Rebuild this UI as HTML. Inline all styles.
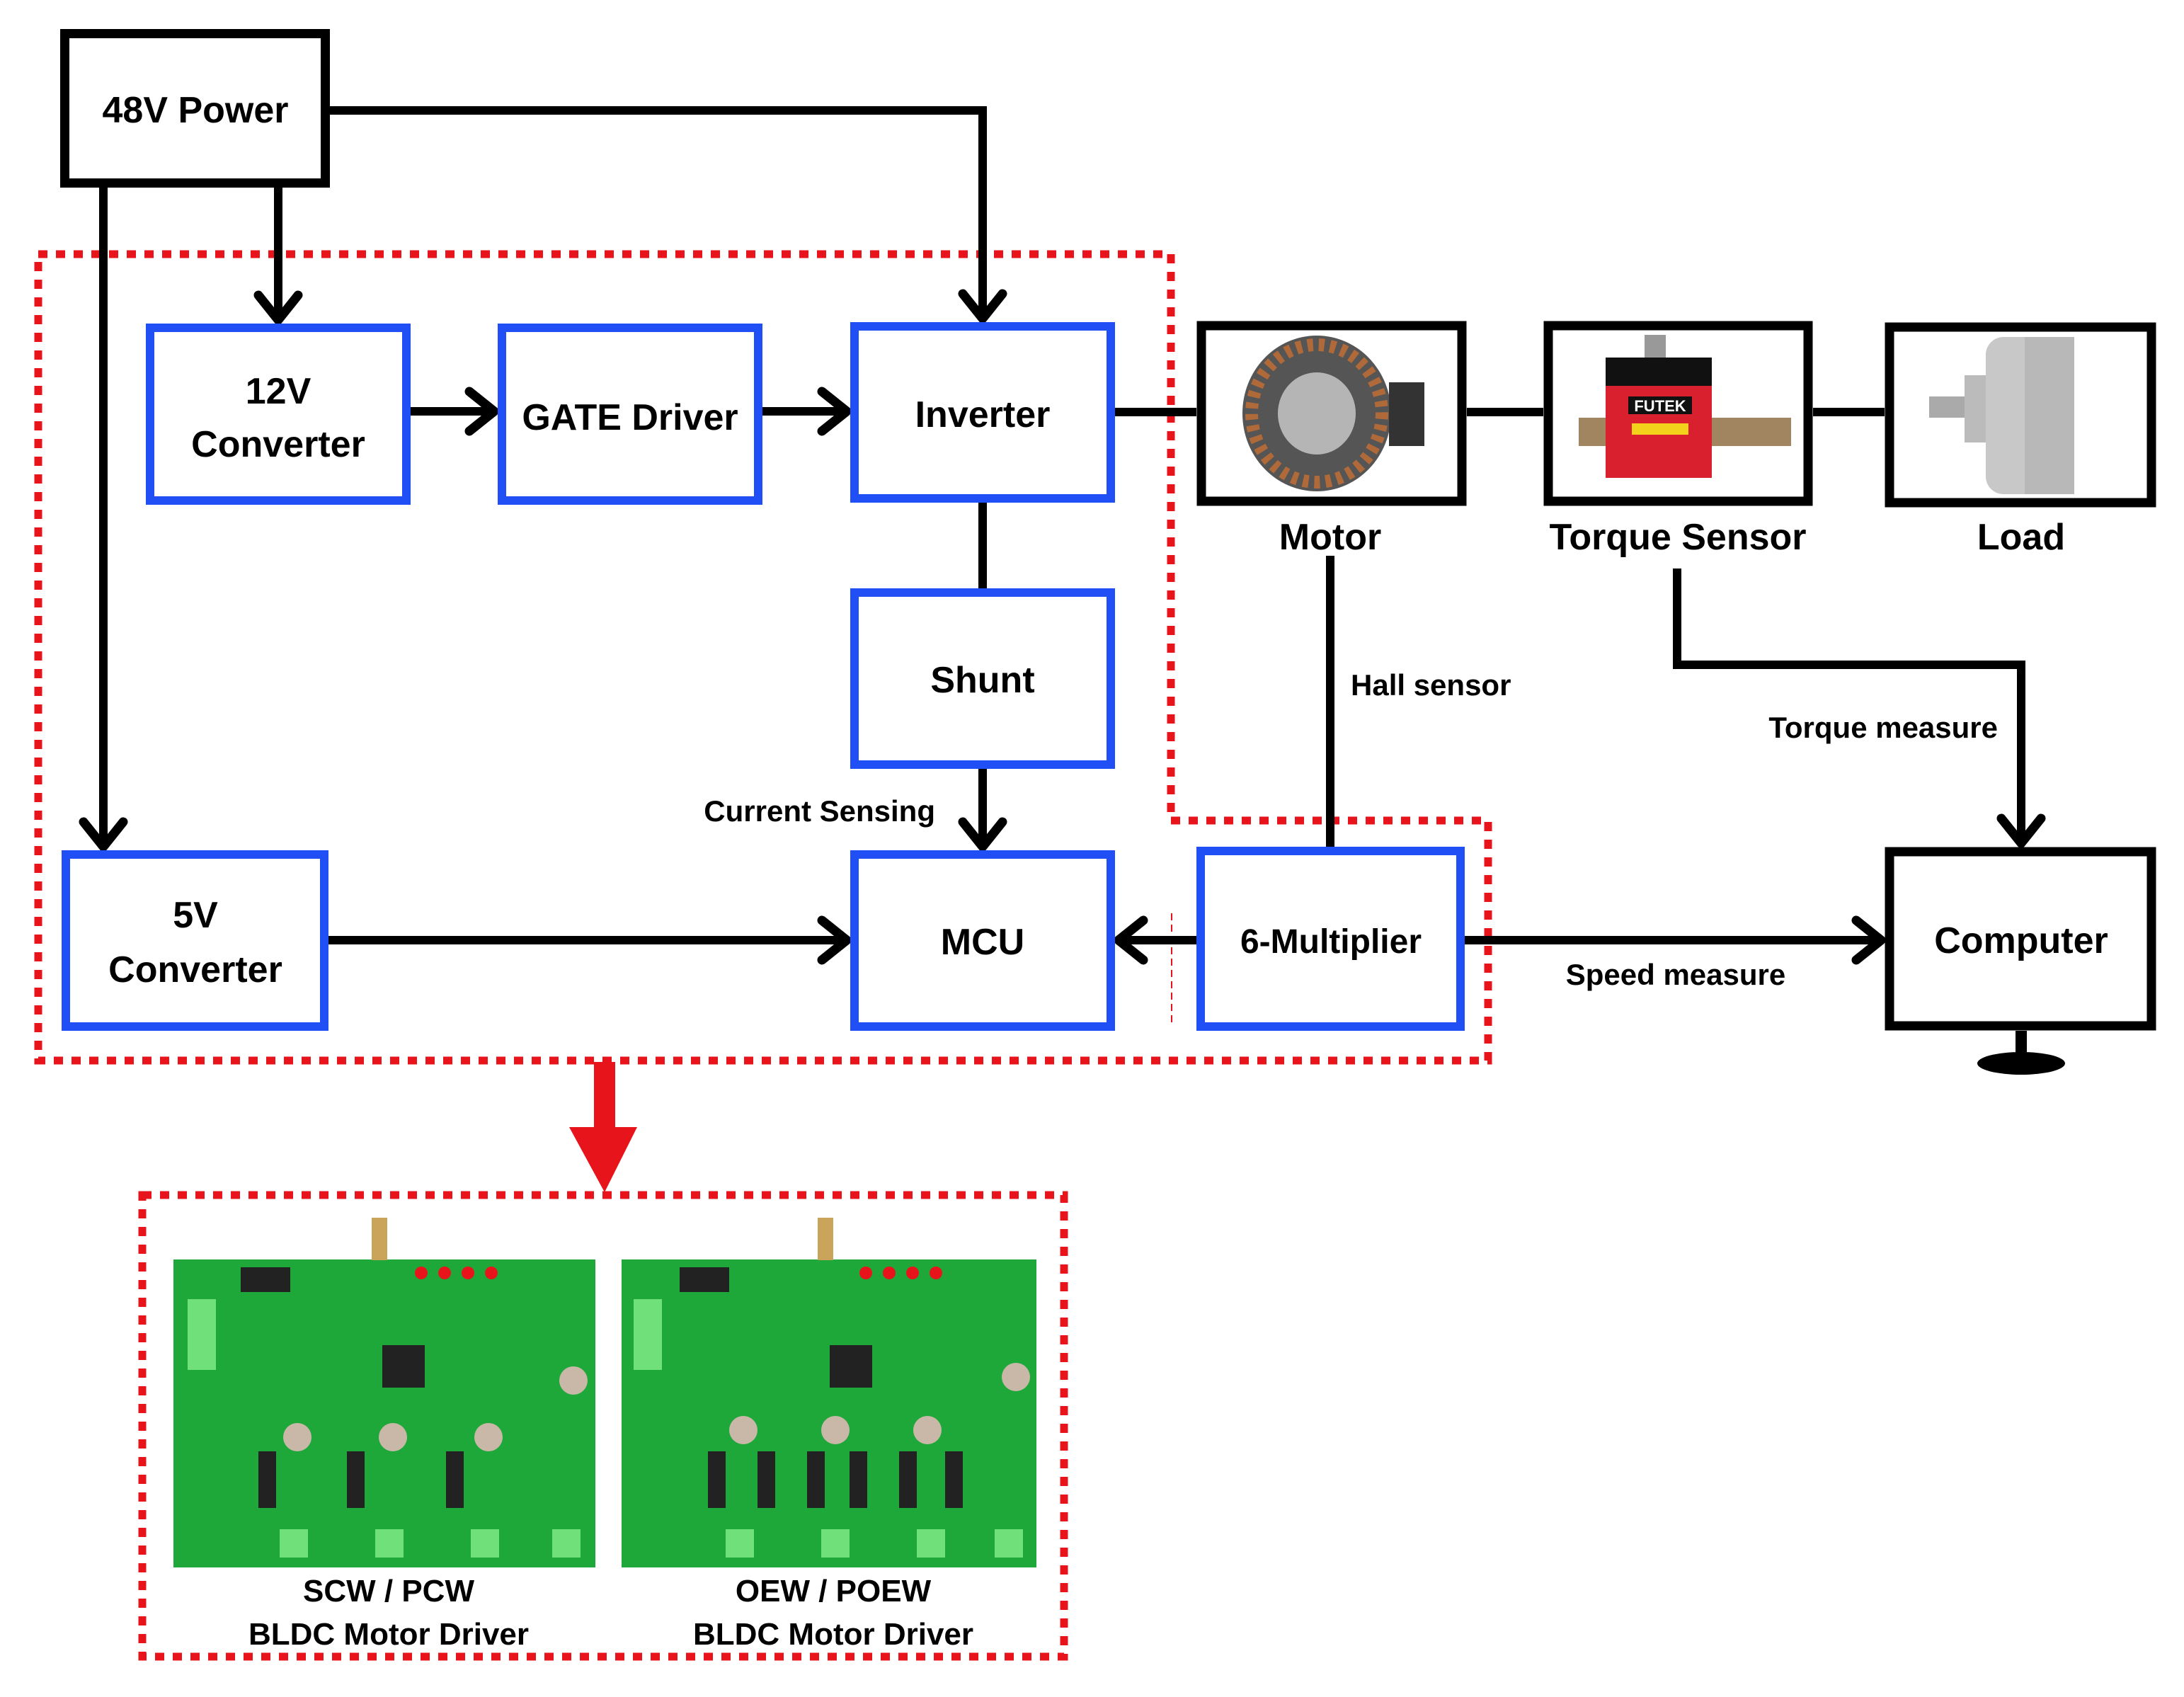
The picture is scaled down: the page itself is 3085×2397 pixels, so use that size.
<!DOCTYPE html>
<html><head><meta charset="utf-8"><style>
html,body{margin:0;padding:0;background:#fff;}
svg{display:block;}
text{font-family:"Liberation Sans",sans-serif;font-weight:bold;fill:#000;}
</style></head><body>
<svg width="3085" height="2397" viewBox="0 0 3085 2397" xmlns="http://www.w3.org/2000/svg">
<rect width="3085" height="2397" fill="#fff"/>
<!-- red dotted main -->
<path d="M54,359 L1654,359 L1654,1159 L2102,1159 L2102,1498 L54,1498 Z" fill="none" stroke="#e8141c" stroke-width="11" stroke-dasharray="13 12"/>
<line x1="1655" y1="1290" x2="1655" y2="1450" stroke="#e8141c" stroke-width="2" stroke-dasharray="10 6"/>

<g fill="none" stroke="#000" stroke-width="12" stroke-linecap="butt" stroke-linejoin="miter">
<polyline points="466,156 1388,156 1388,450"/>
<line x1="393" y1="265" x2="393" y2="452"/>
<line x1="146" y1="265" x2="146" y2="1196"/>
<line x1="580" y1="581" x2="698" y2="581"/>
<line x1="1077" y1="581" x2="1196" y2="581"/>
<line x1="1575" y1="582" x2="1690" y2="582"/>
<line x1="1388" y1="710" x2="1388" y2="831"/>
<line x1="1388" y1="1086" x2="1388" y2="1196"/>
<line x1="464" y1="1328" x2="1196" y2="1328"/>
<line x1="1580" y1="1328" x2="1690" y2="1328"/>
<line x1="2069" y1="1328" x2="2657" y2="1328"/>
<line x1="2072" y1="582" x2="2180" y2="582"/>
<line x1="2561" y1="582" x2="2662" y2="582"/>
<line x1="1879" y1="785" x2="1879" y2="1196"/>
<polyline points="2369,803 2369,939 2855,939 2855,1191"/>
</g>
<g fill="none" stroke="#000" stroke-width="13" stroke-linecap="round" stroke-linejoin="round">
<polyline points="1360,415 1388,450 1416,415"/>
<polyline points="365,417 393,452 421,417"/>
<polyline points="118,1161 146,1196 174,1161"/>
<polyline points="663,553 698,581 663,609"/>
<polyline points="1161,553 1196,581 1161,609"/>
<polyline points="1360,1161 1388,1196 1416,1161"/>
<polyline points="1161,1300 1196,1328 1161,1356"/>
<polyline points="1615,1300 1580,1328 1615,1356"/>
<polyline points="2622,1300 2657,1328 2622,1356"/>
<polyline points="2827,1156 2855,1191 2883,1156"/>
</g>

<!-- black boxes -->
<g fill="#fff" stroke="#000" stroke-width="13">
<rect x="91.5" y="47.5" width="368" height="211"/>
<rect x="1697" y="460" width="368" height="248"/>
<rect x="2187" y="460" width="367" height="248"/>
<rect x="2669" y="462" width="370" height="248"/>
<rect x="2669" y="1203" width="370" height="246"/>
</g>
<rect x="2847" y="1456" width="16" height="36" fill="#000"/>
<ellipse cx="2855" cy="1502" rx="62" ry="16" fill="#000"/>
<!-- blue boxes -->
<g fill="#fff" stroke="#1f4ff5" stroke-width="12">
<rect x="212" y="463" width="362" height="244"/>
<rect x="709" y="463" width="362" height="244"/>
<rect x="1207" y="461" width="362" height="243"/>
<rect x="1207" y="837" width="362" height="243"/>
<rect x="1207" y="1207" width="362" height="243"/>
<rect x="93" y="1207" width="365" height="243"/>
<rect x="1696" y="1202" width="367" height="248"/>
</g>

<!-- motor image -->
<g>
<ellipse cx="1860" cy="584" rx="105" ry="110" fill="#555"/>
<ellipse cx="1860" cy="584" rx="92" ry="97" fill="none" stroke="#b06a3a" stroke-width="18" stroke-dasharray="8 8"/>
<ellipse cx="1860" cy="584" rx="55" ry="58" fill="#b5b5b5"/>
<rect x="1962" y="540" width="50" height="90" fill="#333"/>
</g>
<!-- torque sensor -->
<g>
<rect x="2323" y="473" width="30" height="35" fill="#999"/>
<rect x="2268" y="505" width="150" height="40" fill="#111"/>
<rect x="2230" y="590" width="300" height="40" fill="#a08560"/>
<rect x="2268" y="545" width="150" height="130" fill="#d8202e"/>
<rect x="2300" y="560" width="90" height="25" fill="#111"/>
<text x="2345" y="581" font-size="22" text-anchor="middle" style="fill:#fff">FUTEK</text>
<rect x="2305" y="598" width="80" height="16" fill="#f3d21c"/>
</g>
<!-- load -->
<g>
<rect x="2725" y="560" width="70" height="30" fill="#aaa"/>
<rect x="2775" y="530" width="40" height="95" fill="#bbb"/>
<rect x="2805" y="476" width="125" height="222" rx="25" fill="#c8c8c8"/>
<rect x="2860" y="476" width="70" height="222" fill="#b8b8b8"/>
</g>
<!-- labels -->
<g font-size="52" text-anchor="middle">
<text x="276" y="173">48V Power</text>
<text x="393" y="570">12V</text>
<text x="393" y="645">Converter</text>
<text x="890" y="607">GATE Driver</text>
<text x="1388" y="603">Inverter</text>
<text x="1388" y="978">Shunt</text>
<text x="1388" y="1348">MCU</text>
<text x="276" y="1310">5V</text>
<text x="276" y="1387">Converter</text>
<text x="1880" y="1346" font-size="48">6-Multiplier</text>
<text x="2855" y="1346">Computer</text>
<text x="1879" y="776">Motor</text>
<text x="2370" y="776">Torque Sensor</text>
<text x="2855" y="776">Load</text>
</g>
<g font-size="42">
<text x="1321" y="1160" text-anchor="end">Current Sensing</text>
<text x="1908" y="982">Hall sensor</text>
<text x="2822" y="1042" text-anchor="end">Torque measure</text>
<text x="2367" y="1391" text-anchor="middle">Speed measure</text>
</g>

<!-- red arrow -->
<rect x="839" y="1500" width="30" height="95" fill="#e8141c"/>
<polygon points="804,1592 900,1592 854,1684" fill="#e8141c"/>
<!-- bottom box -->
<rect x="201" y="1688" width="1302" height="652" fill="none" stroke="#e8141c" stroke-width="11" stroke-dasharray="13 12"/>
<!-- PCBs -->
<g>
<rect x="245" y="1779" width="596" height="435" fill="#1ea83a"/>
<rect x="878" y="1779" width="586" height="435" fill="#1ea83a"/>
<g fill="#222">
<rect x="540" y="1900" width="60" height="60"/><rect x="1172" y="1900" width="60" height="60"/>
<rect x="340" y="1790" width="70" height="35"/><rect x="960" y="1790" width="70" height="35"/>
<rect x="365" y="2050" width="25" height="80"/><rect x="490" y="2050" width="25" height="80"/><rect x="630" y="2050" width="25" height="80"/>
<rect x="1000" y="2050" width="25" height="80"/><rect x="1070" y="2050" width="25" height="80"/><rect x="1140" y="2050" width="25" height="80"/><rect x="1200" y="2050" width="25" height="80"/><rect x="1270" y="2050" width="25" height="80"/><rect x="1335" y="2050" width="25" height="80"/>
</g>
<g fill="#e8141c">
<circle cx="595" cy="1798" r="9"/><circle cx="628" cy="1798" r="9"/><circle cx="661" cy="1798" r="9"/><circle cx="694" cy="1798" r="9"/>
<circle cx="1223" cy="1798" r="9"/><circle cx="1256" cy="1798" r="9"/><circle cx="1289" cy="1798" r="9"/><circle cx="1322" cy="1798" r="9"/>
</g>
<g fill="#6fe07a"><rect x="265" y="1835" width="40" height="100"/><rect x="895" y="1835" width="40" height="100"/>
<rect x="395" y="2160" width="40" height="40"/><rect x="530" y="2160" width="40" height="40"/><rect x="665" y="2160" width="40" height="40"/><rect x="780" y="2160" width="40" height="40"/>
<rect x="1025" y="2160" width="40" height="40"/><rect x="1160" y="2160" width="40" height="40"/><rect x="1295" y="2160" width="40" height="40"/><rect x="1405" y="2160" width="40" height="40"/></g>
<g fill="#c9b8a8"><circle cx="420" cy="2030" r="20"/><circle cx="555" cy="2030" r="20"/><circle cx="690" cy="2030" r="20"/><circle cx="810" cy="1950" r="20"/>
<circle cx="1050" cy="2020" r="20"/><circle cx="1180" cy="2020" r="20"/><circle cx="1310" cy="2020" r="20"/><circle cx="1435" cy="1945" r="20"/></g>
<rect x="525" y="1720" width="22" height="60" fill="#c9a45a"/><rect x="1155" y="1720" width="22" height="60" fill="#c9a45a"/>
</g>
<g font-size="44" text-anchor="middle">
<text x="549" y="2262">SCW / PCW</text>
<text x="549" y="2323">BLDC Motor Driver</text>
<text x="1177" y="2262">OEW / POEW</text>
<text x="1177" y="2323">BLDC Motor Driver</text>
</g>
</svg>
</body></html>
